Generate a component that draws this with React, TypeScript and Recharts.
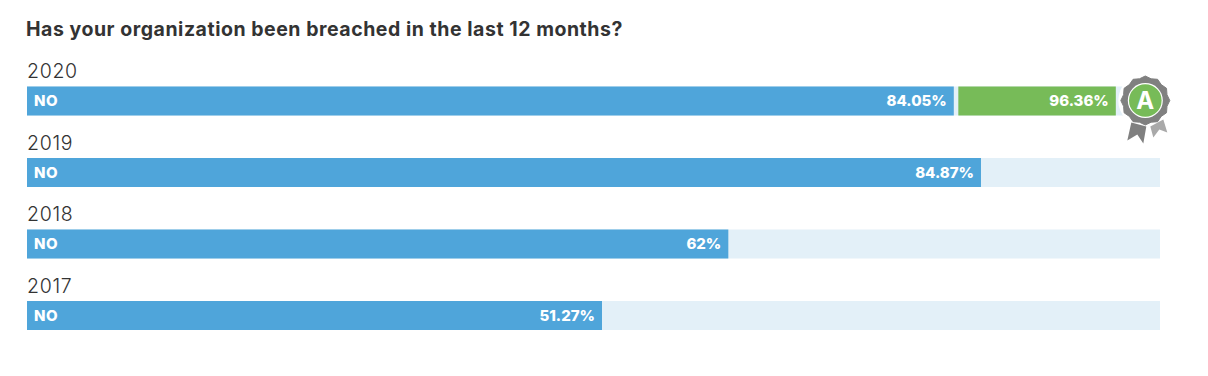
import React from 'react';
import { BarChart, Bar, XAxis, YAxis, LabelList } from 'recharts';

const TITLE = 'Has your organization been breached in the last 12 months?';
const years = ['2020', '2019', '2018', '2017'];
// Drawn lengths, on a 0-100 track
const noLengths = [81.8, 84.2, 61.9, 50.75];
const gapLengths = [0.4, 0, 0, 0];
const gradeLengths = [13.9, 0, 0, 0];
// Printed labels
const noLabels = ['84.05%', '84.87%', '62%', '51.27%'];
const gradeLabels = ['96.36%', '', '', ''];
const seriesName = 'NO';

const BLUE = '#4fa5da';
const GREEN = '#77bb58';
const TRACK = '#e3f0f8';
const INK = '#333333';
const GREY = '#808080';
const LIGHT_GREY = '#a9a9a9';
const FONT = 'Inter, "Open Sans", sans-serif';

const rows = years.map((year, i) => ({
  year,
  no: noLengths[i],
  gap: gapLengths[i],
  grade: gradeLengths[i],
  noLabel: noLabels[i],
  gradeLabel: gradeLabels[i],
}));

function scallop(cx: number, cy: number, r: number, n: number, depth: number) {
  let d = '';
  for (let i = 0; i < n * 2; i++) {
    const a = (Math.PI * i) / n - Math.PI / 2;
    const rr = i % 2 === 0 ? r : r - depth;
    const px = cx + rr * Math.cos(a);
    const py = cy + rr * Math.sin(a);
    d += (i === 0 ? 'M' : 'L') + px.toFixed(1) + ' ' + py.toFixed(1);
  }
  return d + 'Z';
}

function GradeLabel({ x, y, width, height, value }: any) {
  if (!value) return null;
  const right = x + width;
  const midY = y + height / 2;
  const cx = right + 29.5;
  const cy = midY - 0.5;
  return (
    <g>
      <text x={right - 7} y={midY} dy="0.36em" textAnchor="end" fontFamily={FONT} fontWeight={800} fontSize={15} fill="#fff">
        {value}
      </text>
      <circle cx={cx} cy={cy} r={27} fill="#fff" />
      <path d={`M${cx + 5} ${cy + 26} L${cx + 18} ${cy + 19} L${cx + 22} ${cy + 32} L${cx + 14} ${cy + 29} L${cx + 8} ${cy + 37}Z`} fill={LIGHT_GREY} />
      <path d={`M${cx - 14} ${cy + 22} L${cx + 1} ${cy + 26} L${cx - 2} ${cy + 43} L${cx - 8} ${cy + 34} L${cx - 18} ${cy + 40}Z`} fill={GREY} />
      <path d={scallop(cx, cy, 24.5, 12, 2)} fill={GREY} stroke={GREY} strokeWidth={1} strokeLinejoin="round" />
      <circle cx={cx} cy={cy} r={17.5} fill="#fff" />
      <circle cx={cx} cy={cy} r={16.3} fill={GREEN} />
      <text x={cx} y={cy} dy="0.36em" textAnchor="middle" fontFamily={FONT} fontWeight={700} fontSize={24} fill="#fff">A</text>
    </g>
  );
}

function NoValueLabel({ x, y, width, height, value }: any) {
  return (
    <text x={x + width - 7} y={y + height / 2} dy="0.36em" textAnchor="end" fontFamily={FONT} fontWeight={800} fontSize={15} fill="#fff">
      {value}
    </text>
  );
}

function NoNameLabel({ x, y, height }: any) {
  return (
    <text x={x + 7} y={y + height / 2} dy="0.36em" fontFamily={FONT} fontWeight={800} fontSize={15} letterSpacing={0.5} fill="#fff">
      {seriesName}
    </text>
  );
}

function YearLabel({ x, y, value }: any) {
  return (
    <text x={x} y={y - 15.5} dy="0.36em" fontFamily={FONT} fontWeight={300} fontSize={19.5} letterSpacing={0.7} fill={INK}>
      {value}
    </text>
  );
}

export default function App() {
  return (
    <div style={{ position: 'absolute', left: 0, top: 0, width: 1208, height: 376, background: '#fff' }}>
      <BarChart
        width={1208}
        height={376}
        data={rows}
        layout="vertical"
        margin={{ top: 65.5, right: 48, bottom: 24.5, left: 27 }}
      >
        <XAxis type="number" domain={[0, 100]} hide />
        <YAxis type="category" dataKey="year" hide />
        <Bar dataKey="no" stackId="a" fill={BLUE} barSize={29} background={{ fill: TRACK }} isAnimationActive={false}>
          <LabelList dataKey="noLabel" content={<NoValueLabel />} />
          <LabelList dataKey="year" content={<NoNameLabel />} />
          <LabelList dataKey="year" content={<YearLabel />} />
        </Bar>
        <Bar dataKey="gap" stackId="a" fill="transparent" barSize={29} isAnimationActive={false} />
        <Bar dataKey="grade" stackId="a" fill={GREEN} barSize={29} isAnimationActive={false}>
          <LabelList dataKey="gradeLabel" content={<GradeLabel />} />
        </Bar>
      </BarChart>
      <div style={{ position: 'absolute', left: 26, top: 17, fontFamily: FONT, fontWeight: 700, fontSize: 19.5, letterSpacing: 0.53, lineHeight: '24px', color: INK, whiteSpace: 'nowrap' }}>
        {TITLE}
      </div>
    </div>
  );
}
